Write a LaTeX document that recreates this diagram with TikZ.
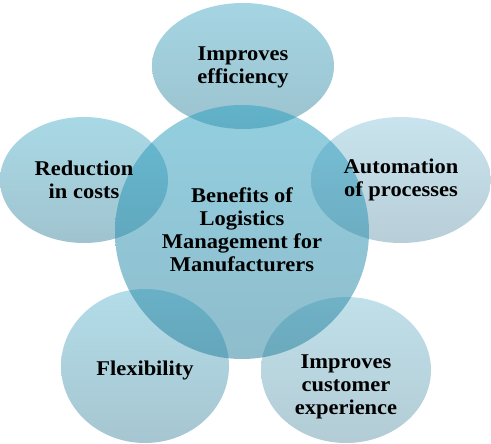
\documentclass[tikz,border=0pt]{standalone}
\usepackage{fontspec}
\setmainfont{Liberation Serif}[FakeStretch=1.07]
\usetikzlibrary{shapes.geometric}
\definecolor{topT}{RGB}{75,171,199}\definecolor{topB}{RGB}{57,135,159}
\definecolor{cenT}{RGB}{39,159,193}\definecolor{cenB}{RGB}{31,123,153}
\definecolor{lefT}{RGB}{83,179,205}\definecolor{lefB}{RGB}{65,137,159}
\definecolor{rigT}{RGB}{147,201,221}\definecolor{rigB}{RGB}{113,157,177}
\definecolor{blT}{RGB}{103,187,211}\definecolor{blB}{RGB}{77,141,163}
\definecolor{brT}{RGB}{129,193,213}\definecolor{brB}{RGB}{103,153,171}
\tikzset{
  blob/.style={ellipse, inner sep=0pt, fill opacity=0.5, draw=none},
  lbl/.style={align=center, font=\fontsize{21}{23}\selectfont\bfseries, text=black}
}
\begin{document}
\begin{tikzpicture}[x=1pt,y=-1pt]
\useasboundingbox (0,0) rectangle (491,444);
\node[blob, minimum width=182pt, minimum height=126pt, top color=topT, bottom color=topB] (top) at (243,66) {};
\node[blob, minimum width=168pt, minimum height=126pt, top color=lefT, bottom color=lefB] (left) at (84,180) {};
\node[blob, minimum width=180pt, minimum height=126pt, top color=rigT, bottom color=rigB] (right) at (401,180) {};
\node[blob, minimum width=168pt, minimum height=154pt, top color=blT, bottom color=blB] (bl) at (145,366) {};
\node[blob, minimum width=170pt, minimum height=146pt, top color=brT, bottom color=brB] (br) at (346,370) {};
\node[blob, minimum width=254pt, minimum height=254pt, top color=cenT, bottom color=cenB] (cen) at (242,232) {};
\node[lbl] (tcen) at ([yshift=2pt]cen.center) {Benefits of\\Logistics\\Management for\\Manufacturers};
\node[lbl] (ttop) at ([yshift=-1pt]top.center) {Improves\\efficiency};
\node[lbl] (tleft) at (left.center) {Reduction\\in costs};
\node[lbl] (tright) at (right.center) {Automation\\of processes};
\node[lbl] (tbl) at ([yshift=-4pt]bl.center) {Flexibility};
\node[lbl] (tbr) at ([yshift=-17pt]br.center) {Improves\\customer\\experience};
\end{tikzpicture}
\end{document}
